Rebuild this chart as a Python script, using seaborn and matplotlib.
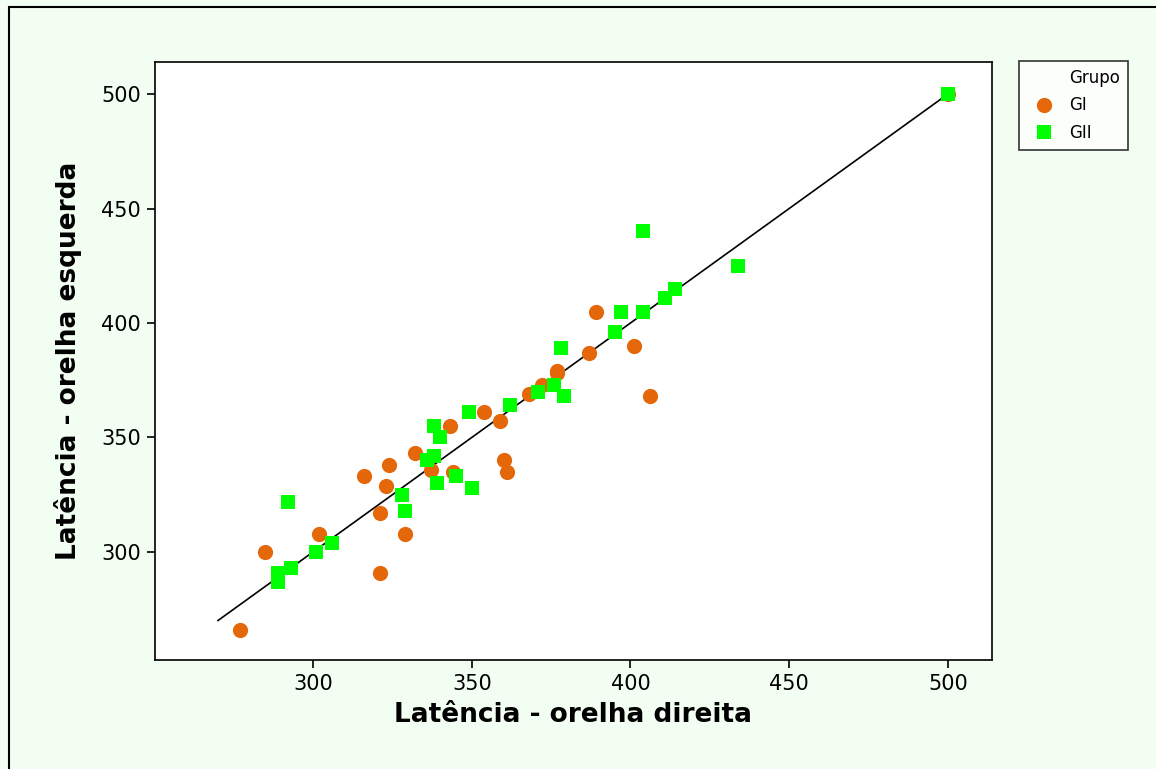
import matplotlib
matplotlib.use("Agg")
import matplotlib.pyplot as plt
import seaborn as sns
import pandas as pd
from matplotlib.patches import Rectangle
from matplotlib.lines import Line2D

# Group GI
gi_direita = [277, 285, 302, 321, 321, 316, 323, 324, 329, 332, 337, 343, 344,
              354, 359, 360, 361, 368, 372, 377, 377, 387, 389, 401, 406, 500]
gi_esquerda = [266, 300, 308, 291, 317, 333, 329, 338, 308, 343, 336, 355, 335,
               361, 357, 340, 335, 369, 373, 379, 378, 387, 405, 390, 368, 500]

# Group GII
gii_direita = [292, 289, 289, 293, 301, 306, 328, 329, 338, 340, 338, 336, 339,
               345, 350, 349, 362, 371, 376, 379, 378, 395, 397, 404, 411, 414,
               404, 434, 500]
gii_esquerda = [322, 287, 291, 293, 300, 304, 325, 318, 355, 350, 342, 340, 330,
                333, 328, 361, 364, 370, 373, 368, 389, 396, 405, 405, 411, 415,
                440, 425, 500]

# Reference line y = x
ref_line = [270, 500]

grupos = ["GI", "GII"]

df = pd.DataFrame({
    "direita": gi_direita + gii_direita,
    "esquerda": gi_esquerda + gii_esquerda,
    "Grupo": ["GI"] * len(gi_direita) + ["GII"] * len(gii_direita),
})

sns.set_style("white")
plt.rcParams["font.family"] = ["DejaVu Sans"]
plt.rcParams["text.color"] = "black"
plt.rcParams["axes.labelcolor"] = "black"

fig = plt.figure(figsize=(11.56, 7.69), dpi=100)
fig.patch.set_facecolor("#F2FEF2")
fig.patches.append(Rectangle((9 / 1156, -0.05), 1.2, 1 - 7 / 769 + 0.05,
                             transform=fig.transFigure, fill=False,
                             edgecolor="black", linewidth=1.5))

ax = fig.add_axes([155 / 1156, 1 - 660 / 769, (992 - 155) / 1156, (660 - 62) / 769])
ax.set_facecolor("white")

palette = {"GI": "#E4680A", "GII": "#00FF00"}
markers = {"GI": "o", "GII": "s"}

ax.plot(ref_line, ref_line, color="black", linewidth=1.2, zorder=1)

for g in grupos:
    sub = df[df["Grupo"] == g]
    sns.scatterplot(data=sub, x="direita", y="esquerda", ax=ax,
                    color=palette[g], marker=markers[g],
                    s=120 if g == "GI" else 105, linewidth=0, zorder=2,
                    legend=False)

ax.set_xlim(250.2, 513.9)
ax.set_ylim(252.8, 514.0)
ax.set_xticks([300, 350, 400, 450, 500])
ax.set_yticks([300, 350, 400, 450, 500])
ax.tick_params(axis="both", which="both", direction="out", length=6, width=1.2,
               labelsize=15, color="black", labelcolor="black",
               bottom=True, left=True, top=False, right=False, pad=4)
for sp in ax.spines.values():
    sp.set_color("black")
    sp.set_linewidth(1.2)

ax.set_xlabel("Latência - orelha direita", fontsize=19, fontweight="bold",
              labelpad=6, color="black")
ax.set_ylabel("Latência - orelha esquerda", fontsize=19, fontweight="bold",
              labelpad=14, color="black")

handles = [Line2D([], [], linestyle="none", marker="", label="Grupo"),
           Line2D([], [], linestyle="none", marker="o", markersize=11,
                  markerfacecolor=palette["GI"], markeredgewidth=0, label="GI"),
           Line2D([], [], linestyle="none", marker="s", markersize=10,
                  markerfacecolor=palette["GII"], markeredgewidth=0, label="GII")]
leg = fig.legend(handles=handles, loc="upper left",
                 bbox_to_anchor=(1019 / 1156, 1 - 61 / 769),
                 frameon=True, fancybox=False, fontsize=12,
                 handletextpad=0.5, borderpad=0.5, labelspacing=0.55,
                 handlelength=2.0, borderaxespad=0)
leg.get_frame().set_edgecolor("black")
leg.get_frame().set_linewidth(1.2)
leg.get_frame().set_facecolor("white")
for t in leg.get_texts():
    t.set_color("black")

fig.savefig("out.png", dpi=100, facecolor=fig.get_facecolor())
